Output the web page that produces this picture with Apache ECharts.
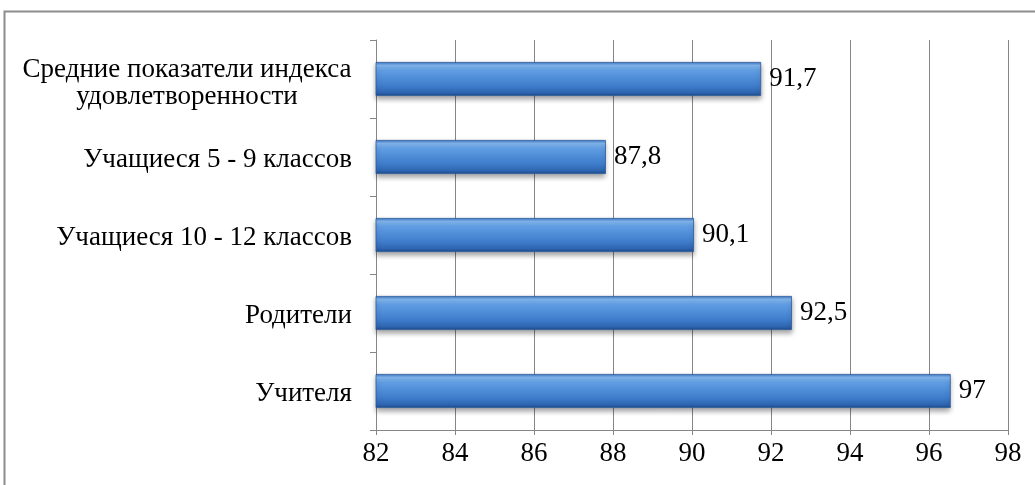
<!DOCTYPE html>
<html><head><meta charset="utf-8">
<script src="https://cdn.jsdelivr.net/npm/echarts@6/dist/echarts.min.js"></script>
<style>html,body{margin:0;padding:0;background:#fff}#c{width:1035px;height:485px}</style>
</head><body><div id="c"></div>
<script>
const categories = ['Учителя', 'Родители', 'Учащиеся 10 - 12 классов', 'Учащиеся 5 - 9 классов', 'Средние показатели индекса\nудовлетворенности'];
const values = [96.55, 92.53, 90.05, 87.82, 91.75];
const valueLabels = ['97', '92,5', '90,1', '87,8', '91,7'];
const xTicks = [82, 84, 86, 88, 90, 92, 94, 96, 98];

const chart = echarts.init(document.getElementById('c'), null, {renderer: 'canvas'});
const serif = '"Liberation Serif", "Times New Roman", serif';
const FS = 27;
const barGrad = new echarts.graphic.LinearGradient(0, 0, 0, 1, [
  {offset: 0, color: '#3a74c4'},
  {offset: 0.1, color: '#84b8f0'},
  {offset: 0.25, color: '#609de3'},
  {offset: 0.7, color: '#3f7dcc'},
  {offset: 0.9, color: '#2e65b0'},
  {offset: 1, color: '#1f4b8a'}
]);
chart.setOption({
  animation: false,
  backgroundColor: '#fff',
  graphic: [{
    type: 'rect', silent: true,
    shape: {x: 4.5, y: 11.5, width: 1100, height: 600},
    style: {fill: 'none', stroke: '#8c8c8c', lineWidth: 2}
  }],
  grid: {left: 376, right: 27, top: 40, bottom: 55, containLabel: false},
  xAxis: {
    type: 'value', min: xTicks[0], max: xTicks[xTicks.length - 1], interval: 2,
    axisLine: {show: true, lineStyle: {color: '#868686', width: 1}},
    axisTick: {show: true, length: 5, inside: false, lineStyle: {color: '#868686'}},
    splitLine: {show: true, lineStyle: {color: '#868686', width: 1}},
    axisLabel: {color: '#000', fontFamily: serif, fontSize: FS, margin: 10}
  },
  yAxis: {
    type: 'category', data: categories,
    axisLine: {show: true, lineStyle: {color: '#868686', width: 1}},
    axisTick: {show: true, length: 6, lineStyle: {color: '#868686'}},
    axisLabel: {
      color: '#000', fontFamily: serif, fontSize: FS, margin: 24, lineHeight: 29,
      padding: [6, 0, 0, 0],
      formatter: function (v) {
        if (v.indexOf('\n') >= 0) {
          const p = v.split('\n');
          return '{b|' + p[0] + '}\n{a|' + p[1] + '}';
        }
        return v;
      },
      rich: {
        a: {width: 330, align: 'center', fontFamily: serif, fontSize: FS, color: '#000', lineHeight: 29},
        b: {width: 330, align: 'center', fontFamily: serif, fontSize: FS, color: '#000', lineHeight: 29, padding: [4, 0, 0, 0]}
      }
    }
  },
  series: [{
    type: 'bar', data: values, barWidth: 34,
    itemStyle: {color: barGrad, borderColor: '#2a5b9c', borderWidth: 0.8,
      shadowColor: 'rgba(0,0,0,0.35)', shadowBlur: 5, shadowOffsetY: 3},
    label: {show: true, position: 'right', distance: 8, color: '#000',
      fontFamily: serif, fontSize: FS, padding: [6, 0, 0, 0],
      formatter: function (p) { return valueLabels[p.dataIndex]; }}
  }]
});
</script></body></html>
